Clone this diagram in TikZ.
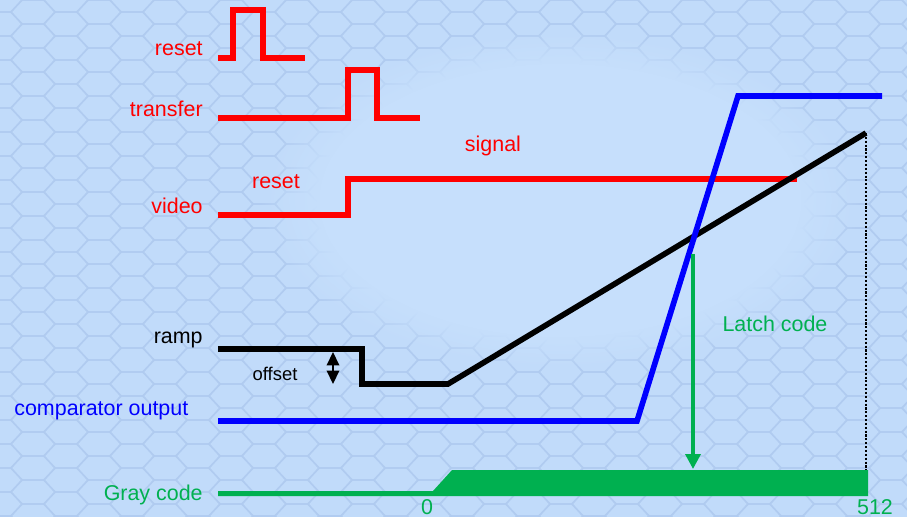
\documentclass[tikz,border=0pt]{standalone}
\usepackage{fontspec}
\setmainfont{Liberation Sans}
\usetikzlibrary{arrows.meta,fadings}
\definecolor{bgblue}{RGB}{193,219,250}
\definecolor{hexline}{RGB}{176,203,240}
\definecolor{glow}{RGB}{198,223,252}
\definecolor{sigred}{RGB}{255,0,0}
\definecolor{cmpblue}{RGB}{0,0,255}
\definecolor{codegreen}{RGB}{0,176,80}

\begin{document}
\begin{tikzpicture}[x=0.02cm,y=-0.02cm,
  lbl/.style={font=\fontsize{12.2}{14}\selectfont, inner sep=0pt},
  small/.style={font=\fontsize{10.5}{12}\selectfont, inner sep=0pt},
  wave/.style={line width=3.2pt, line join=miter},
  redwave/.style={wave, draw=sigred},
  blackwave/.style={wave, draw=black},
  bluewave/.style={wave, draw=cmpblue},
  latch/.style={draw=codegreen, line width=2pt,
    -{Triangle[length=0.3cm,width=0.3cm]}},
  offsetarrow/.style={draw=black, line width=1.2pt,
    {Triangle[length=0.27cm,width=0.25cm]}-{Triangle[length=0.27cm,width=0.25cm]}}]

% background with a faint hexagonal texture
\useasboundingbox (0,0) rectangle (907,517);
\fill[bgblue] (0,0) rectangle (907,517);
\begin{scope}
  \clip (0,0) rectangle (907,517);
  \foreach \i in {0,...,28} {
    \foreach \j in {-1,...,22} {
      \pgfmathsetmacro\cx{\i*33}
      \pgfmathsetmacro\cy{\j*24+mod(\i,2)*12}
      \draw[hexline, line width=0.8pt]
        (\cx-22,\cy) -- (\cx-11,\cy-12) -- (\cx+11,\cy-12) --
        (\cx+22,\cy) -- (\cx+11,\cy+12) -- (\cx-11,\cy+12) -- cycle;
    }
  }
  \fill[glow, path fading=circle with fuzzy edge 20 percent]
    (560,200) ellipse [x radius=300, y radius=170];
\end{scope}

% signal labels
\node[lbl, text=sigred, anchor=east] (lreset) at (203,49) {reset};
\node[lbl, text=sigred, anchor=east] (ltransfer) at (203,109) {transfer};
\node[lbl, text=sigred, anchor=east] (lvideo) at (203,206) {video};
\node[lbl, text=sigred] (lvreset) at (276,182) {reset};
\node[lbl, text=sigred] (lsignal) at (493,146) {signal};
\node[lbl, text=black, anchor=east] (lramp) at (203,340) {ramp};
\node[small, text=black] (loffset) at (275,374) {offset};
\node[lbl, text=cmpblue, anchor=west] (lcmp) at (14,411) {comparator output};
\node[lbl, text=codegreen] (llatch) at (775,324) {Latch code};
\node[lbl, text=codegreen, anchor=east] (lgray) at (203,495) {Gray code};
\node[lbl, text=codegreen] (lzero) at (427,507) {0};
\node[lbl, text=codegreen] (lmax) at (875,507) {512};

% reset pulse
\draw[redwave] (218,58) -- (233,58) -- (233,10) -- (263,10) -- (263,58) -- (305,58);
% transfer pulse
\draw[redwave] (218,118) -- (348,118) -- (348,70) -- (377,70) -- (377,118) -- (420,118);
% video level
\draw[redwave] (218,215) -- (348,215) -- (348,179) -- (797,179);

% ramp with offset step
\coordinate (rampend) at (866,133);
\draw[blackwave] (218,349) -- (362,349) -- (362,384) -- (448,384) -- (rampend);
\coordinate (offtop) at (333,352);
\coordinate (offbot) at (333,384);
\draw[offsetarrow] (offtop) -- (offbot);
\coordinate (dotend) at (866,472);
\draw[black, line width=1.3pt, dash pattern=on 1.2pt off 1pt] (rampend) -- (dotend);

% comparator output
\draw[bluewave] (218,421) -- (637,421) -- (738,96) -- (882,96);

% latch arrow and Gray code count
\coordinate (latchtop) at (693,254);
\coordinate (latchtip) at (693,469);
\draw[latch] (latchtop) -- (latchtip);
\fill[codegreen] (218,491) -- (433,491) -- (452,470) -- (868,470) --
  (868,496) -- (218,496) -- cycle;
\end{tikzpicture}
\end{document}
